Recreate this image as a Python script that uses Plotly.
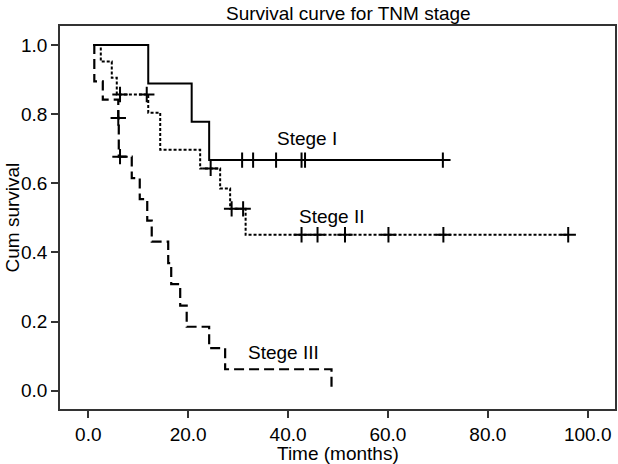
import plotly.graph_objects as go

# Stage I (solid)
s1_time = [1.0, 12.0, 20.7, 24.2, 71.0]
s1_surv = [1.0, 0.889, 0.778, 0.667, 0.667]
s1_cens_time = [30.8, 33.0, 37.6, 42.7, 43.4, 71.0]
s1_cens_surv = [0.667, 0.667, 0.667, 0.667, 0.667, 0.667]

# Stage II (dotted)
s2_time = [1.0, 2.5, 4.7, 5.7, 12.0, 14.4, 22.4, 26.4, 28.4, 31.5, 96.1]
s2_surv = [1.0, 0.952, 0.905, 0.857, 0.804, 0.697, 0.643, 0.585, 0.526, 0.451, 0.451]
s2_cens_time = [6.35, 11.7, 24.5, 28.7, 31.0, 42.7, 45.9, 51.4, 60.1, 71.1, 96.1]
s2_cens_surv = [0.857, 0.857, 0.643, 0.526, 0.526, 0.451, 0.451, 0.451, 0.451, 0.451, 0.451]

# Stage III (dashed)
s3_time = [1.0, 1.2, 2.9, 6.0, 6.1, 8.7, 10.3, 11.8, 12.7, 16.0, 16.6, 18.4, 19.7, 24.2, 27.4, 48.7]
s3_surv = [1.0, 0.895, 0.842, 0.789, 0.677, 0.615, 0.554, 0.492, 0.431, 0.369, 0.308, 0.246, 0.185, 0.123, 0.062, 0.0]
s3_cens_time = [6.0, 6.35]
s3_cens_surv = [0.789, 0.677]

labels = ["Stege I", "Stege II", "Stege III"]
label_x = [43.8, 48.7, 39.1]
label_y = [0.731, 0.505, 0.11]

x_ticks = [0, 20, 40, 60, 80, 100]
y_ticks = [0, 0.2, 0.4, 0.6, 0.8, 1.0]

FONT = "Liberation Sans, Arial, sans-serif"
FS = 19
fig = go.Figure()

fig.add_trace(go.Scatter(x=s1_time, y=s1_surv, mode="lines", line_shape="hv",
                         line=dict(color="black", width=2)))
fig.add_trace(go.Scatter(x=s2_time, y=s2_surv, mode="lines", line_shape="hv",
                         line=dict(color="black", width=2, dash="3px,2px")))
fig.add_trace(go.Scatter(x=s3_time, y=s3_surv, mode="lines", line_shape="hv",
                         line=dict(color="black", width=2.2, dash="10px,5px")))

for ct, cs in [(s1_cens_time, s1_cens_surv), (s2_cens_time, s2_cens_surv), (s3_cens_time, s3_cens_surv)]:
    fig.add_trace(go.Scatter(x=ct, y=cs, mode="markers",
                             marker=dict(symbol="cross-thin", size=11,
                                         line=dict(color="black", width=2))))

for t, lx, ly in zip(labels, label_x, label_y):
    fig.add_annotation(x=lx, y=ly, text=t, showarrow=False,
                       font=dict(family=FONT, size=FS, color="black"))

fig.add_annotation(x=0.52, y=1, xref="paper", yref="paper", yshift=13, yanchor="middle",
                   text="Survival curve for TNM stage", showarrow=False,
                   font=dict(family=FONT, size=FS, color="black"))
fig.add_annotation(x=0.5, y=0, xref="paper", yref="paper", yshift=-44, yanchor="middle",
                   text="Time (months)", showarrow=False,
                   font=dict(family=FONT, size=FS, color="black"))
fig.add_annotation(x=0, y=0.5, xref="paper", yref="paper", xshift=-48, xanchor="center",
                   text="Cum survival", textangle=-90, showarrow=False,
                   font=dict(family=FONT, size=FS, color="black"))

axis_common = dict(showgrid=False, zeroline=False, showline=True, linecolor="#333",
                   linewidth=1.5, mirror=True, ticks="outside", ticklen=7,
                   tickcolor="#333", tickwidth=1.5, tickformat=".1f", automargin=False,
                   tickfont=dict(family=FONT, size=FS, color="black"))
fig.update_xaxes(range=[-5.67, 105.47], tickvals=x_ticks, **axis_common)
fig.update_yaxes(range=[-0.053, 1.055], tickvals=y_ticks, **axis_common)

fig.update_layout(width=618, height=464, showlegend=False,
                  margin=dict(l=60, r=3, t=26, b=55),
                  plot_bgcolor="white", paper_bgcolor="white")

fig.write_html("out.html", config={"displayModeBar": False},
               post_script="document.body.style.margin='0px';document.body.style.overflow='hidden';")
